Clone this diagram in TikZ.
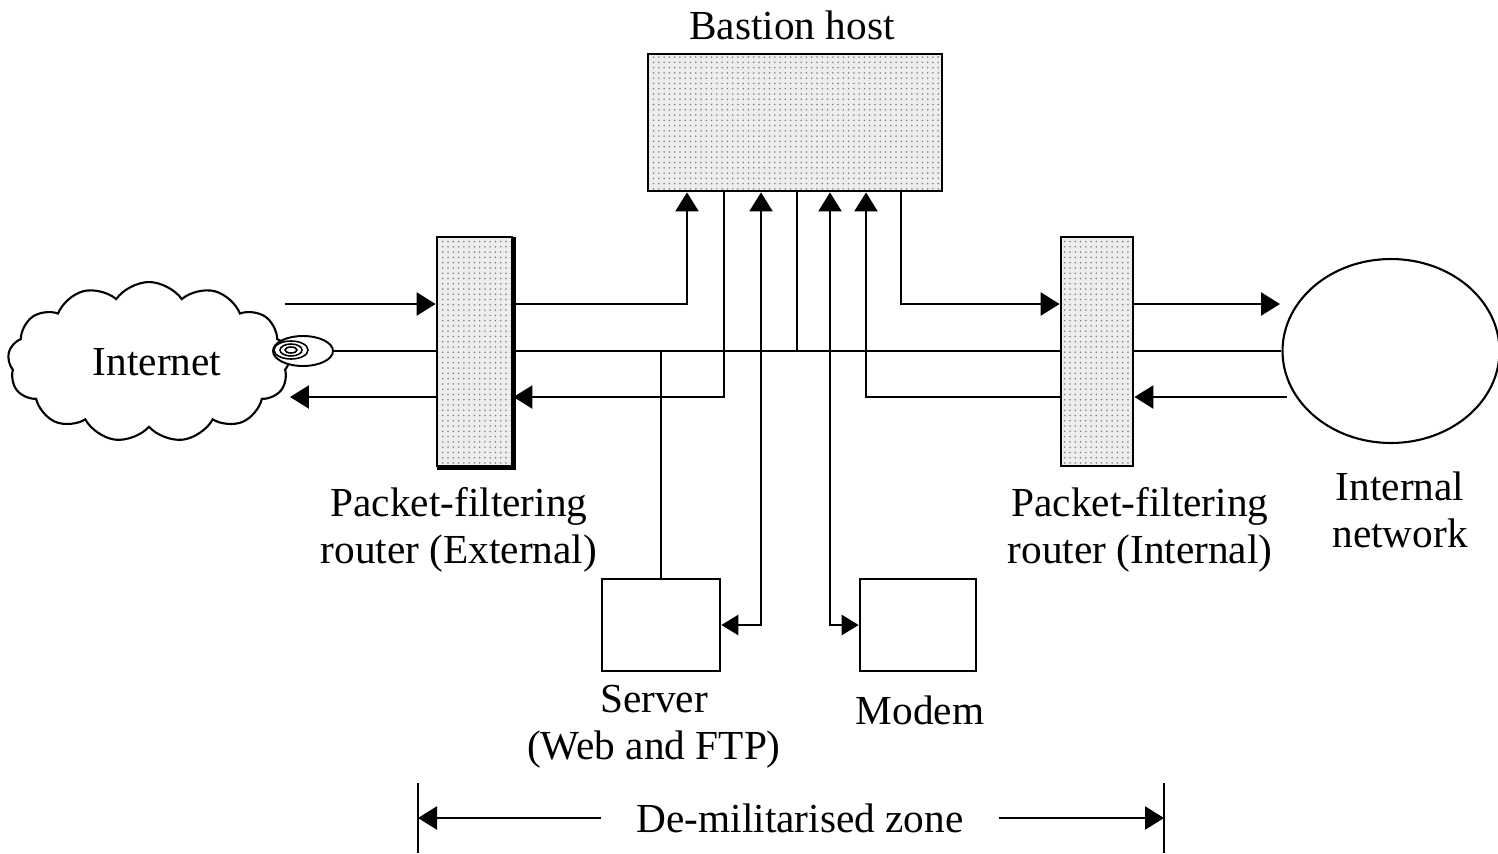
\documentclass[tikz,border=0pt]{standalone}
\usepackage{fontspec}
\setmainfont{Liberation Serif}
\usetikzlibrary{arrows.meta,shapes.symbols,shapes.geometric,patterns}
\begin{document}
\begin{tikzpicture}[x=0.02cm,y=-0.02cm,
  every node/.style={font=\fontsize{23.5}{26.6}\selectfont},
  wire/.style={line width=1.4pt},
  arr/.style={wire,-{Triangle[length=0.38cm,width=0.46cm]}},
  arrboth/.style={wire,{Triangle[length=0.34cm,width=0.4cm]}-{Triangle[length=0.38cm,width=0.46cm]}},
  stipple/.style={draw,line width=1.6pt,preaction={fill=black!7},pattern=dots,pattern color=black!50},
  plainbox/.style={draw,line width=1.5pt,fill=white,inner sep=0pt},
  caption/.style={align=center,inner sep=0pt}]
\useasboundingbox (0,0) rectangle (1498,853);

% hosts and routers
\node[stipple,minimum width=5.88cm,minimum height=2.74cm] (bastion) at (795,122.5) {};
\node[caption] at (792,25) {Bastion host};
\node[stipple,minimum width=1.5cm,minimum height=4.58cm] (ext) at (474.5,351.5) {};
\draw[line width=2.6pt,line cap=butt,line join=miter] ([yshift=-0.8pt]ext.north east) -- (ext.south east) -- ([xshift=0.8pt]ext.south west);
\node[stipple,minimum width=1.44cm,minimum height=4.58cm] (intr) at (1097,351.5) {};
\node[plainbox,minimum width=2.36cm,minimum height=1.84cm] (server) at (661,625) {};
\node[plainbox,minimum width=2.32cm,minimum height=1.84cm] (modem) at (918,625) {};

% networks
\node[cloud,draw,line width=1.2pt,cloud puffs=13,cloud puff arc=110,aspect=1.75,
      minimum width=5.65cm,minimum height=3.2cm,inner sep=0pt] (cloud) at (149,362) {};
\node[caption] at (157,362) {Internet};
\node[ellipse,draw,line width=1.1pt,fill=white,minimum width=1.2cm,minimum height=0.6cm,inner sep=0pt] (port) at (303,351) {};
\draw[line width=0.9pt] (291,350) ellipse [x radius=17,y radius=9];
\draw[line width=0.9pt] (291,350) ellipse [x radius=11,y radius=6];
\draw[line width=0.9pt] (291,350) ellipse [x radius=6,y radius=3];
\node[ellipse,draw,line width=1.2pt,minimum width=4.34cm,minimum height=3.68cm,inner sep=0pt] (lan) at (1391,351) {};

% labels
\node[caption] at (459,530) {Packet-filtering\\router (External)};
\node[caption] at (1140,530) {Packet-filtering\\router (Internal)};
\node[caption] at (1400,510) {Internal\\network};
\node[caption] at (654,727) {Server\\(Web and FTP)};
\node[caption] at (920,710) {Modem};

% reference levels and tap positions
\coordinate (yt) at (0,304);
\coordinate (ym) at (0,351);
\coordinate (yb) at (0,397);
\coordinate (t1) at (687,0);
\coordinate (t2) at (724,0);
\coordinate (t3) at (761,0);
\coordinate (t4) at (797,0);
\coordinate (t5) at (830,0);
\coordinate (t6) at (866,0);
\coordinate (t7) at (901,0);
\coordinate (cin) at (285,304);
\coordinate (cout) at (290,397);
\coordinate (lin) at (1280,304);
\coordinate (lout) at (1287,397);

% Internet side
\draw[arr] (cin) -- (ext.west |- yt);
\draw[wire] (port.east) -- (ext.west |- ym);
\draw[arr] (ext.west |- yb) -- (cout);

% between the routers
\draw[arr] (ext.east |- yt) -| (bastion.south -| t1);
\draw[wire] (ext.east |- ym) -- (intr.west |- ym);
\draw[arr] (bastion.south -| t2) |- (ext.east |- yb);
\draw[wire] (server.north) -- (server.north |- ym);
\draw[wire] (bastion.south -| t4) -- (t4 |- ym);
\draw[arrboth] (server.east) -| (bastion.south -| t3);
\draw[arrboth] (modem.west) -| (bastion.south -| t5);
\draw[arr] (intr.west |- yb) -| (bastion.south -| t6);
\draw[arr] (bastion.south -| t7) |- (intr.west |- yt);

% internal side
\draw[arr] (intr.east |- yt) -- (lin);
\draw[wire] (intr.east |- ym) -- (lan.west);
\draw[arr] (lout) -- (intr.east |- yb);

% de-militarised zone span
\coordinate (zl) at (418,818);
\coordinate (zr) at (1164,818);
\draw[line width=1.2pt] (418,783) -- (418,853);
\draw[line width=1.2pt] (1164,783) -- (1164,853);
\node[caption,inner xsep=0.7cm] (dmz) at (800,818) {De-militarised zone};
\draw[arr] (dmz.west) -- (zl);
\draw[arr] (dmz.east) -- (zr);
\end{tikzpicture}
\end{document}
